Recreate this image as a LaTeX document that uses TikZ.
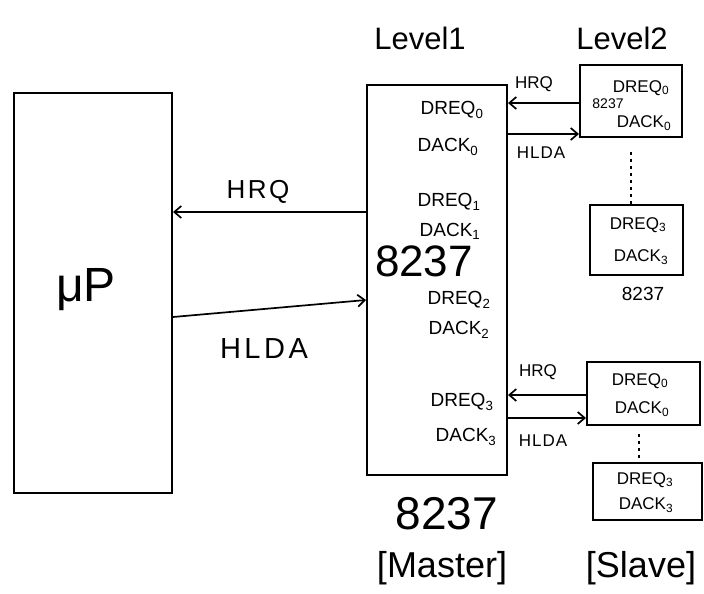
\documentclass[tikz,border=0pt]{standalone}
\usepackage{fontspec}
\setmainfont{Liberation Sans}
\usetikzlibrary{arrows.meta}
\newcommand{\fs}[1]{\fontsize{#1}{#1}\selectfont}
\newcommand{\sg}[2]{#1\textsubscript{#2}}
\begin{document}
\begin{tikzpicture}[x=1pt,y=-1pt,
  box/.style={draw,line width=2pt,inner sep=0pt},
  sig/.style={->,line width=1.7pt,>={Straight Barb[length=7pt,width=12pt]}},
  dots/.style={line width=2pt,dash pattern=on 3pt off 4pt},
  txt/.style={inner sep=0pt,anchor=center}]
\useasboundingbox (0,0) rectangle (704,594);
% boxes
\node[box,minimum width=158pt,minimum height=400pt] (mp) at (93,293) {};
\node[box,minimum width=140pt,minimum height=390pt] (m) at (437,280) {};
\node[box,minimum width=102pt,minimum height=72pt] (s1) at (631,101) {};
\node[box,minimum width=93pt,minimum height=70pt] (s2) at (636.5,240) {};
\node[box,minimum width=113pt,minimum height=63pt] (s3) at (643.5,393.5) {};
\node[box,minimum width=109pt,minimum height=57pt] (s4) at (647.5,491.5) {};
% headings
\node[txt] (l1) at (420,38) {\fs{31}Level1};
\node[txt] (l2) at (622,38) {\fs{31}Level2};
% uP
\node[txt] (mpt) at (86,290) {\fs{48}μP};
% master texts
\node[txt] (d0) at (452,110) {\fs{19}\sg{DREQ}{0}};
\node[txt] (a0) at (448,147) {\fs{19}\sg{DACK}{0}};
\node[txt] (d1) at (449,202) {\fs{19}\sg{DREQ}{1}};
\node[txt] (a1) at (450,231) {\fs{19}\sg{DACK}{1}};
\node[txt] (mchip) at (424,261) {\fs{44}8237};
\node[txt] (d2) at (459,300) {\fs{19}\sg{DREQ}{2}};
\node[txt] (a2) at (459,330) {\fs{19}\sg{DACK}{2}};
\node[txt] (d3) at (462,402) {\fs{19}\sg{DREQ}{3}};
\node[txt] (a3) at (466,437) {\fs{19}\sg{DACK}{3}};
% slave texts
\node[txt] (s1d) at (641,88) {\fs{17}\sg{DREQ}{0}};
\node[txt] (s1c) at (608,104) {\fs{14}8237};
\node[txt] (s1a) at (644,123) {\fs{17}\sg{DACK}{0}};
\node[txt] (s2d) at (638,225) {\fs{17}\sg{DREQ}{3}};
\node[txt] (s2a) at (641,257) {\fs{17}\sg{DACK}{3}};
\node[txt] (s2c) at (643,294) {\fs{19}8237};
\node[txt] (s3d) at (640,381) {\fs{17}\sg{DREQ}{0}};
\node[txt] (s3a) at (642,409) {\fs{17}\sg{DACK}{0}};
\node[txt] (s4d) at (645,480) {\fs{17}\sg{DREQ}{3}};
\node[txt] (s4a) at (646,505) {\fs{17}\sg{DACK}{3}};
% bottom captions
\node[txt] (mc) at (447,514) {\fs{46}8237};
\node[txt] (mm) at (442,568) {\fs{36}[Master]};
\node[txt] (ss) at (641,568) {\fs{36}[Slave]};
% helper coordinates
\coordinate (y103) at (0,103);
\coordinate (y134) at (0,134);
\coordinate (y212) at (0,212);
\coordinate (y317) at (0,317);
\coordinate (y300) at (0,300);
\coordinate (y395) at (0,395);
\coordinate (y418) at (0,418);
% uP <-> master
\draw[sig] (m.west |- y212) -- (mp.east |- y212);
\draw[sig] (mp.east |- y317) -- (m.west |- y300);
\node[txt] (hrq0) at (258,192) {\fs{26}\addfontfeature{LetterSpace=10}HRQ};
\node[txt] (hlda0) at (264,349) {\fs{29}\addfontfeature{LetterSpace=12}HLDA};
% master <-> slave 1
\draw[sig] (s1.west |- y103) -- (m.east |- y103);
\draw[sig] (m.east |- y134) -- (s1.west |- y134);
\node[txt] (hrq1) at (534,84) {\fs{17}HRQ};
\node[txt] (hlda1) at (541,153) {\fs{17}\addfontfeature{LetterSpace=6}HLDA};
% master <-> slave 3
\draw[sig] (s3.west |- y395) -- (m.east |- y395);
\draw[sig] (m.east |- y418) -- (s3.west |- y418);
\node[txt] (hrq2) at (538,372) {\fs{17}HRQ};
\node[txt] (hlda2) at (543,441) {\fs{17}\addfontfeature{LetterSpace=6}HLDA};
% dotted cascades
\draw[dots] (s1.south -| s2.north) ++(-6,14) coordinate (c1) (c1) -- (s2.north -| c1);
\draw[dots] (s3.south -| s4.north) ++(-9,8) coordinate (c2) (c2) -- (s4.north -| c2);
\end{tikzpicture}
\end{document}
